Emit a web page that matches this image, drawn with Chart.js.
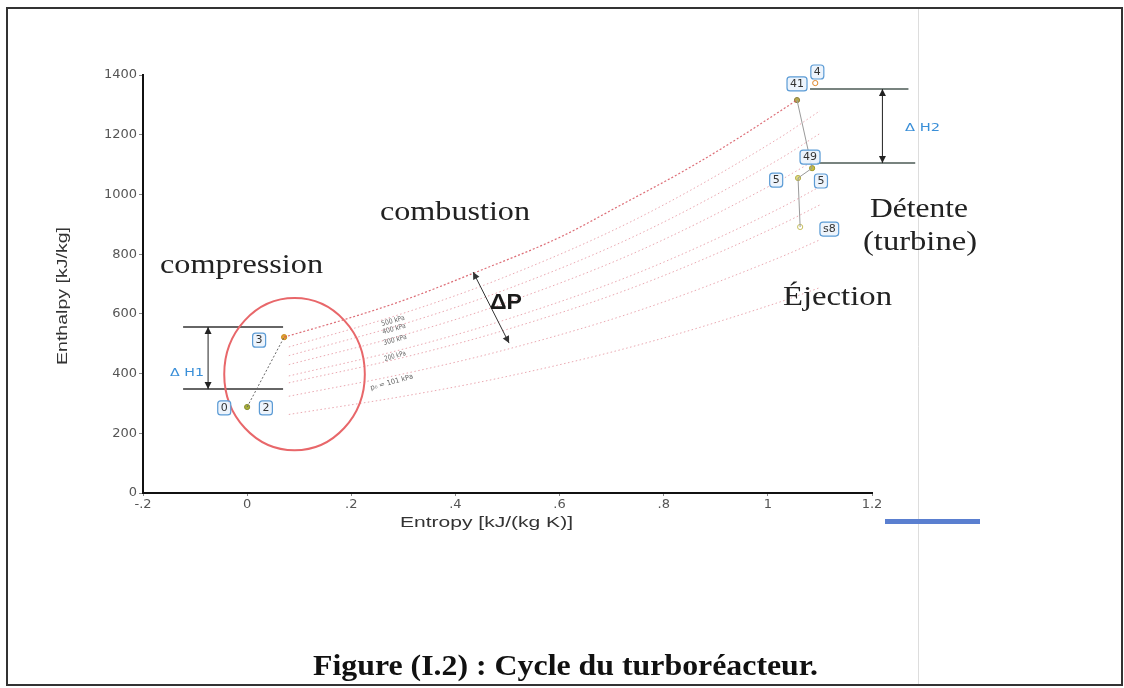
<!DOCTYPE html>
<html lang="fr">
<head>
<meta charset="UTF-8">
<title>Cycle du turboréacteur</title>
<script src="https://cdn.jsdelivr.net/npm/chart.js@4.4.1/dist/chart.umd.min.js"></script>
<style>
  html, body { margin: 0; padding: 0; background: #fff; }
  #wrap { width: 1124px; height: 688px; }
</style>
</head>
<body>
<div id="wrap"><canvas id="cycle"></canvas></div>
<script>
// graduations des axes
const xTicks = ['-.2', '0', '.2', '.4', '.6', '.8', '1', '1.2'];
const yTicks = ['0', '200', '400', '600', '800', '1000', '1200', '1400'];

// isobare haute pression (3 -> 41)
const combS = [0.071, 0.2, 0.3, 0.44, 0.6, 0.715, 0.85, 0.94, 1.056];
const combH = [522, 588, 645, 740, 856, 962, 1090, 1185, 1316];

// faisceau d'isobares
const isoS = [0.08, 0.3, 0.49, 0.75, 1.02, 1.1];
const iso1 = [489, 602, 720, 920, 1187, 1280];
const iso2 = [460, 566, 677, 865, 1116, 1204];
const iso3 = [430, 529, 633, 809, 1044, 1125];
const iso4 = [392, 482, 577, 737, 951, 1026];
const iso5 = [369, 454, 543, 694, 895, 965];
const iso6 = [324, 399, 477, 610, 787, 848];
const iso7 = [263, 324, 387, 495, 638, 688];

// points du cycle : 0/2, 3, 41, 4, 49, 5, s8
const stateS = [0.0, 0.071, 1.056, 1.091, 1.085, 1.058, 1.062];
const stateH = [288, 522, 1316, 1373, 1088, 1055, 891];

// etiquettes des points
const tagText = ['0', '2', '3', '41', '4', '49', '5', '5', 's8'];
const tagS = [-0.044, 0.036, 0.023, 1.056, 1.095, 1.081, 1.016, 1.102, 1.118];
const tagH = [285, 285, 512, 1370, 1410, 1125, 1048, 1045, 884];

// compression 0 -> 3 et detente 41 -> 49 -> 5 -> s8
const compS = [0.0, 0.071];
const compH = [288, 522];
const turbS = [1.056, 1.085, 1.058, 1.062];
const turbH = [1316, 1088, 1055, 891];

// niveaux delta H1 / delta H2
const dh1S = [-0.123, 0.069];
const dh1H = [556, 348];
const dh2S = [1.081, 1.27];
const dh2H = [1353, 1105];
const dh1ArrowS = -0.075;
const dh2ArrowS = 1.22;

// fleche delta P
const dpS = [0.434, 0.503];
const dpH = [740, 502];

// cercle autour de la compression
const ringS = 0.091, ringH = 398, ringRs = 0.135, ringRh = 255;

const isoLabels = ['500 kPa', '400 kPa', '300 kPa', '200 kPa', 'p\u2080 = 101 kPa'];

function pts(xs, ys) { return xs.map((x, i) => ({ x: x, y: ys[i] })); }

function isoSet(h) {
  return {
    data: pts(isoS, h), showLine: true, pointRadius: 0,
    borderColor: 'rgba(220,110,125,0.6)', borderWidth: 1, borderDash: [1.5, 2.5],
    cubicInterpolationMode: 'monotone'
  };
}

function fitText(ctx, text, x, y, w, font, color, rot) {
  ctx.save();
  ctx.font = font;
  ctx.fillStyle = color;
  ctx.textAlign = 'left';
  ctx.textBaseline = 'alphabetic';
  const m = ctx.measureText(text).width;
  ctx.translate(x, y);
  if (rot) ctx.rotate(rot);
  ctx.scale(w / m, 1);
  ctx.fillText(text, 0, 0);
  ctx.restore();
}

function arrowHead(ctx, x1, y1, x2, y2) {
  const a = Math.atan2(y2 - y1, x2 - x1);
  ctx.beginPath();
  ctx.moveTo(x2, y2);
  ctx.lineTo(x2 - 7 * Math.cos(a) + 3.5 * Math.sin(a), y2 - 7 * Math.sin(a) - 3.5 * Math.cos(a));
  ctx.lineTo(x2 - 7 * Math.cos(a) - 3.5 * Math.sin(a), y2 - 7 * Math.sin(a) + 3.5 * Math.cos(a));
  ctx.closePath();
  ctx.fill();
}

function doubleArrow(ctx, x1, y1, x2, y2, color) {
  ctx.save();
  ctx.strokeStyle = color;
  ctx.fillStyle = color;
  ctx.lineWidth = 1;
  ctx.beginPath();
  ctx.moveTo(x1, y1);
  ctx.lineTo(x2, y2);
  ctx.stroke();
  arrowHead(ctx, x1, y1, x2, y2);
  arrowHead(ctx, x2, y2, x1, y1);
  ctx.restore();
}

function tag(ctx, text, cx, cy) {
  ctx.save();
  ctx.font = '11px "DejaVu Sans"';
  const w = Math.max(13, ctx.measureText(text).width + 6);
  const h = 14;
  ctx.beginPath();
  ctx.roundRect(cx - w / 2, cy - h / 2, w, h, 3);
  ctx.fillStyle = 'rgba(235,243,252,0.9)';
  ctx.fill();
  ctx.strokeStyle = '#5b9bd5';
  ctx.lineWidth = 1.2;
  ctx.stroke();
  ctx.fillStyle = '#333';
  ctx.textAlign = 'center';
  ctx.textBaseline = 'middle';
  ctx.fillText(text, cx, cy + 0.5);
  ctx.restore();
}

const decor = {
  id: 'decor',
  beforeDraw(chart) {
    const ctx = chart.ctx;
    ctx.save();
    ctx.fillStyle = '#fff';
    ctx.fillRect(0, 0, chart.width, chart.height);
    // cadre de la figure
    ctx.strokeStyle = '#333';
    ctx.lineWidth = 2;
    ctx.strokeRect(7, 8, 1115, 677);
    // trait vertical clair du scan
    ctx.strokeStyle = '#ddd';
    ctx.lineWidth = 1;
    ctx.beginPath();
    ctx.moveTo(918.5, 9);
    ctx.lineTo(918.5, 684);
    ctx.stroke();
    // barre bleue
    ctx.fillStyle = '#5a7fd0';
    ctx.fillRect(885, 519, 95, 5);
    ctx.restore();
  },
  afterDatasetsDraw(chart) {
    const ctx = chart.ctx;
    const sx = chart.scales.x, sy = chart.scales.y;
    const X = v => sx.getPixelForValue(v);
    const Y = v => sy.getPixelForValue(v);

    // cercle rouge
    ctx.save();
    ctx.strokeStyle = '#e8676a';
    ctx.lineWidth = 2;
    ctx.beginPath();
    ctx.ellipse(X(ringS), Y(ringH), X(ringS + ringRs) - X(ringS), Y(ringH) - Y(ringH + ringRh), 0, 0, Math.PI * 2);
    ctx.stroke();
    ctx.restore();

    // fleches
    doubleArrow(ctx, X(dh1ArrowS), Y(dh1H[0]), X(dh1ArrowS), Y(dh1H[1]), '#222');
    doubleArrow(ctx, X(dh2ArrowS), Y(dh2H[0]), X(dh2ArrowS), Y(dh2H[1]), '#222');
    doubleArrow(ctx, X(dpS[0]), Y(dpH[0]), X(dpS[1]), Y(dpH[1]), '#333');

    // etiquettes des points
    tagText.forEach((t, i) => tag(ctx, t, X(tagS[i]), Y(tagH[i])));

    // textes
    const serif = '27px "Liberation Serif"';
    fitText(ctx, 'compression', 160, 273, 163, serif, '#222');
    fitText(ctx, 'combustion', 380, 220, 150, serif, '#222');
    fitText(ctx, 'Détente', 870, 217, 98, serif, '#222');
    fitText(ctx, '(turbine)', 863, 250, 114, serif, '#222');
    fitText(ctx, 'Éjection', 783, 305, 109, serif, '#222');
    fitText(ctx, 'ΔP', 490, 309, 32, 'bold 22px "Liberation Sans"', '#1a1a1a');
    fitText(ctx, 'Δ H1', 170, 376, 34, '11px "DejaVu Sans"', '#3a8fd8');
    fitText(ctx, 'Δ H2', 905, 131, 35, '11px "DejaVu Sans"', '#3a8fd8');

    // libelles des isobares
    const rot = -0.27;
    fitText(ctx, isoLabels[0], 382, 326, 24, '7px "DejaVu Sans"', '#666', rot);
    fitText(ctx, isoLabels[1], 383, 334, 24, '7px "DejaVu Sans"', '#666', rot);
    fitText(ctx, isoLabels[2], 384, 345, 24, '7px "DejaVu Sans"', '#666', rot);
    fitText(ctx, isoLabels[3], 385, 361, 22, '7px "DejaVu Sans"', '#666', rot);
    fitText(ctx, isoLabels[4], 371, 390, 44, '7px "DejaVu Sans"', '#666', rot);

    // titres des axes
    fitText(ctx, 'Entropy [kJ/(kg K)]', 400, 527, 173, '14px "Liberation Sans"', '#333');
    fitText(ctx, 'Enthalpy [kJ/kg]', 67, 365, 138, '14px "Liberation Sans"', '#333', -Math.PI / 2);

    // legende
    fitText(ctx, 'Figure (I.2) : Cycle du turboréacteur.', 313, 675, 505, 'bold 30px "Liberation Serif"', '#111');
  }
};

new Chart(document.getElementById('cycle'), {
  type: 'scatter',
  data: {
    datasets: [
      isoSet(iso1), isoSet(iso2), isoSet(iso3), isoSet(iso4),
      isoSet(iso5), isoSet(iso6), isoSet(iso7),
      {
        data: pts(combS, combH), showLine: true, pointRadius: 0,
        borderColor: 'rgba(215,85,95,0.85)', borderWidth: 1.2, borderDash: [2, 2],
        cubicInterpolationMode: 'monotone'
      },
      {
        data: pts(compS, compH), showLine: true, pointRadius: 0,
        borderColor: '#666', borderWidth: 1, borderDash: [2, 2]
      },
      {
        data: pts(turbS, turbH), showLine: true, pointRadius: 0,
        borderColor: '#9a9a9a', borderWidth: 1
      },
      {
        data: [{ x: dh1S[0], y: dh1H[0] }, { x: dh1S[1], y: dh1H[0] }], showLine: true,
        pointRadius: 0, borderColor: '#333', borderWidth: 1.5
      },
      {
        data: [{ x: dh1S[0], y: dh1H[1] }, { x: dh1S[1], y: dh1H[1] }], showLine: true,
        pointRadius: 0, borderColor: '#333', borderWidth: 1.5
      },
      {
        data: [{ x: dh2S[0], y: dh2H[0] }, { x: dh2S[1], y: dh2H[0] }], showLine: true,
        pointRadius: 0, borderColor: '#4b5a55', borderWidth: 1.5, clip: false
      },
      {
        data: [{ x: dh2S[0] + 0.013, y: dh2H[1] }, { x: dh2S[1] + 0.013, y: dh2H[1] }], showLine: true,
        pointRadius: 0, borderColor: '#4b5a55', borderWidth: 1.5, clip: false
      },
      {
        data: pts(stateS, stateH), showLine: false, pointRadius: 2.6, borderWidth: 1, clip: false,
        pointBackgroundColor: ['#a8b03a', '#e3a431', '#b8a84a', '#fff', '#c8c040', '#e0dc80', '#fff'],
        pointBorderColor: ['#8a9030', '#c98a20', '#8a8040', '#e08a30', '#a09a30', '#b8b050', '#c8c060']
      }
    ]
  },
  options: {
    responsive: true,
    maintainAspectRatio: false,
    animation: false,
    devicePixelRatio: 1,
    layout: { padding: { top: 75, right: 252, left: 0, bottom: 0 } },
    plugins: { legend: { display: false }, tooltip: { enabled: false } },
    scales: {
      x: {
        type: 'linear', min: -0.2, max: 1.2,
        afterFit: s => { s.height = 195; },
        border: { color: '#111', width: 2 },
        grid: { drawOnChartArea: false, drawTicks: true, tickLength: 3, color: '#888' },
        ticks: {
          stepSize: 0.2, padding: 1, color: '#555',
          font: { family: 'DejaVu Sans', size: 13 },
          callback: (v, i) => xTicks[i]
        }
      },
      y: {
        type: 'linear', min: 0, max: 1400,
        afterFit: s => { s.width = 143; },
        border: { color: '#111', width: 2 },
        grid: { drawOnChartArea: false, drawTicks: true, tickLength: 4, color: '#888' },
        ticks: {
          stepSize: 200, padding: 2, color: '#555',
          font: { family: 'DejaVu Sans', size: 13 },
          callback: (v, i) => yTicks[i]
        }
      }
    }
  },
  plugins: [decor]
});
</script>
</body>
</html>
